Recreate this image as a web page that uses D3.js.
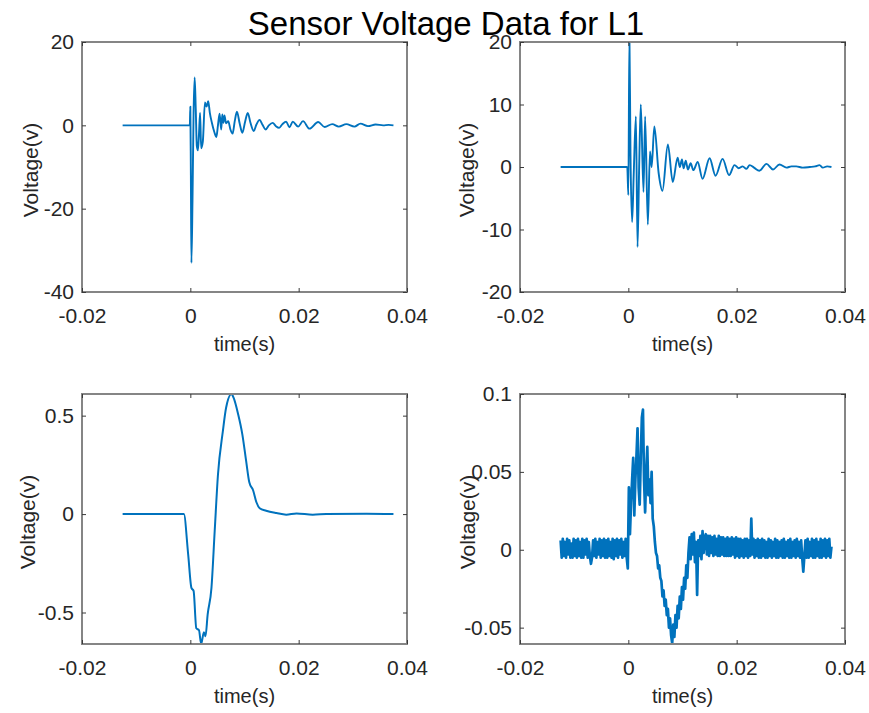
<!DOCTYPE html>
<html>
<head>
<meta charset="utf-8">
<script src="https://cdn.jsdelivr.net/npm/d3@7"></script>
<style>
  html, body { margin: 0; padding: 0; background: #ffffff; }
  svg { display: block; }
  text { font-family: "Liberation Sans", Arial, Helvetica, sans-serif; }
</style>
</head>
<body>
<svg id="chart" width="869" height="713"></svg>
<script>
// ---------------- DATA ----------------
const chartTitle = "Sensor Voltage Data for L1";
const xLabel = "time(s)";
const yLabel = "Voltage(v)";

const xDomain = [-0.02, 0.04];
const xTicks = [-0.02, 0, 0.02, 0.04];

// Panel 1 (top-left)
const yDomainP1 = [-40, 20];
const yTicksP1 = [-40, -20, 0, 20];
const timeP1 = [-0.0125, -0.0001, 0.0000, 0.0001, 0.0002, 0.0004, 0.0006, 0.0008, 0.0010, 0.0012,
  0.0014, 0.0016, 0.0018, 0.0020, 0.0023, 0.0027, 0.0030, 0.0033, 0.0036, 0.0040,
  0.0044, 0.0048, 0.0051, 0.0054, 0.0057, 0.0059, 0.0061, 0.0063, 0.0066, 0.0070,
  0.0074, 0.0078, 0.0082, 0.0086, 0.0091, 0.0096, 0.0101, 0.0106, 0.0111, 0.0117,
  0.0122, 0.0128, 0.0133, 0.0139, 0.0145, 0.0152, 0.0158, 0.0164, 0.0170, 0.0177,
  0.0183, 0.0189, 0.0199, 0.0208, 0.0220, 0.0236, 0.0248, 0.0262, 0.0274, 0.0288,
  0.0303, 0.0314, 0.0328, 0.0342, 0.0356, 0.0366, 0.0375];
const voltP1 = [0, 0, 4.5, -12, -33, -18, 3, 11.5, 4, -5,
  -6, -2, 3, -5.5, -4, 5.5, 4.5, 5.8, 3, 0.5,
  -1.5, -2.8, 0, 2.8, -1, 2.6, 0.6, 2.4, 0.5, 1.0,
  -1.0, -2.0, 1.0, 3.3, 0.5, -1.8, 0.8, 3.0, 0.6, -1.4,
  0.2, 1.3, 0.2, -1.0, 0, 0.6, -0.2, -0.6, 0.3, 0.9,
  -0.5, 0.9, -0.3, 1.0, -0.8, 0.8, -0.4, 0.3, -0.3, 0.3,
  -0.3, 0.4, -0.2, 0.2, 0, 0.1, 0];

// Panel 2 (top-right)
const yDomainP2 = [-20, 20];
const yTicksP2 = [-20, -10, 0, 10, 20];
const timeP2 = [-0.0125, -0.0002, 0.0000, 0.0002, 0.0004, 0.0007, 0.0010, 0.0014, 0.0017, 0.0020,
  0.0023, 0.0028, 0.0031, 0.0036, 0.0040, 0.0043, 0.0048, 0.0056, 0.0063, 0.0073,
  0.0082, 0.0091, 0.0095, 0.0099, 0.0102, 0.0106, 0.0110, 0.0115, 0.0120, 0.0128,
  0.0137, 0.0150, 0.0161, 0.0174, 0.0186, 0.0196, 0.0204, 0.0211, 0.0218, 0.0224,
  0.0232, 0.0242, 0.0255, 0.0267, 0.0279, 0.0292, 0.0301, 0.0310, 0.0322, 0.0335,
  0.0345, 0.0353, 0.0359, 0.0367, 0.0375];
const voltP2 = [0, 0, -4.5, 21, 2, -8.8, -1, 8.1, -12.8, 0,
  10, -4, 8.1, -9.2, 2.5, 0, 6.5, -1, -3.8, 3.6,
  -2.4, 1.5, 0, 1.2, -0.2, 1.0, -0.4, 0.6, -0.5, 0.8,
  -1.9, 1.4, -1.4, 1.3, -1.3, 0.3, -0.2, 0.1, -0.3, 0.3,
  -0.1, -0.6, 0.5, -0.4, 0.4, -0.1, 0.1, 0.1, -0.1, 0.0,
  0.1, 0.3, -0.1, 0.1, 0];

// Panel 3 (bottom-left)
const yDomainP3 = [-0.66, 0.61];
const yTicksP3 = [-0.5, 0, 0.5];
const timeP3 = [-0.0125, -0.0012, -0.0004, 0.0002, 0.0006, 0.0011, 0.0016, 0.0020, 0.0025, 0.0028,
  0.0032, 0.0039, 0.0045, 0.0051, 0.0060, 0.0066, 0.0076, 0.0080, 0.0088, 0.0096,
  0.0103, 0.0109, 0.0116, 0.0122, 0.0128, 0.0140, 0.0159, 0.0177, 0.0196, 0.0226,
  0.0251, 0.0325, 0.0375];
const voltP3 = [0, 0, -0.205, -0.375, -0.39, -0.58, -0.59, -0.66, -0.60, -0.62,
  -0.51, -0.375, -0.085, 0.20, 0.42, 0.54, 0.61, 0.59, 0.51, 0.405,
  0.27, 0.16, 0.12, 0.06, 0.03, 0.017, 0.005, -0.003, 0.003, -0.003,
  0, 0.002, 0];

// Panel 4 (bottom-right): uniformly sampled, start time and sample step
const yDomainP4 = [-0.0605, 0.1];
const yTicksP4 = [-0.05, 0, 0.05, 0.1];
const startP4 = -0.0125;
const stepP4 = 0.0002;
const voltP4 = [
  0.006,-0.005,0.007,-0.004,0.005,-0.005,0.007,-0.003,0.006,-0.005,
  0.004,-0.005,0.007,-0.004,0.006,-0.005,0.007,-0.004,0.005,-0.005,
  0.007,-0.005,0.006,-0.003,0.007,-0.005,0.005,-0.004,-0.009,-0.005,
  0.006,-0.004,0.007,-0.005,0.005,-0.003,0.007,-0.005,0.006,-0.004,
  0.007,-0.005,0.006,-0.005,0.007,-0.004,0.005,-0.005,0.007,-0.006,
  0.006,-0.004,0.007,-0.005,0.006,-0.003,0.007,-0.005,0.005,-0.004,
  0.007,-0.005,
  -0.012,0.040,0.010,0.030,0.045,0.059,0.022,0.045,0.060,0.078,
  0.040,0.029,0.060,0.085,0.090,0.045,0.024,0.050,0.066,0.035,
  0.045,0.030,0.050,0.020,0.015,0.005,-0.002,-0.004,-0.012,-0.010,
  -0.018,-0.020,-0.030,-0.026,-0.036,-0.032,-0.042,-0.038,-0.050,-0.044,
  -0.055,-0.060,-0.048,-0.056,-0.042,-0.050,-0.036,-0.044,-0.030,-0.038,
  -0.024,-0.032,-0.018,-0.025,-0.010,-0.018,-0.002,0.008,-0.006,0.010,
  -0.003,0.011,-0.008,0.005,-0.029,0.006,-0.004,0.009,-0.006,0.012,
  -0.002,0.008,
  0.010,-0.003,0.009,-0.004,0.009,-0.002,0.008,-0.004,0.009,-0.003,
  0.007,-0.004,0.009,-0.004,0.008,-0.003,0.008,-0.004,0.007,-0.004,
  0.008,-0.004,0.007,-0.004,0.008,-0.003,0.007,-0.005,0.008,-0.004,
  0.007,-0.005,0.007,-0.004,0.006,-0.005,0.007,-0.004,0.007,-0.005,
  0.006,-0.004,0.020,-0.003,0.007,-0.005,0.006,-0.004,0.007,-0.005,
  0.006,-0.005,0.007,-0.004,0.006,-0.005,0.005,-0.005,0.007,-0.004,
  0.006,-0.005,0.005,-0.004,0.007,-0.005,0.006,-0.005,0.005,-0.004,
  0.006,-0.005,0.007,-0.005,0.005,-0.004,0.006,-0.005,0.007,-0.005,
  0.005,-0.004,0.006,-0.005,0.007,-0.004,0.005,-0.005,0.006,-0.005,
  -0.014,-0.004,0.006,-0.005,0.007,-0.005,0.005,-0.004,0.007,-0.005,
  0.006,-0.005,0.007,-0.004,0.005,-0.005,0.007,-0.005,0.006,-0.004,
  0.007,-0.005,0.006,-0.004,0.007,-0.005,0.002
];

// ---------------- LAYOUT ----------------
const W = 869, H = 713;
const PW = 325, PH = 250;
const lineColor = "#0072BD";
const textColor = "#262626";
const boxColor = "#858585";
const tickColor = "#3a3a3a";

const panels = [
  { x: 82,  y: 42,  time: timeP1, volt: voltP1, yDomain: yDomainP1, yTicks: yTicksP1, curve: d3.curveMonotoneX, ylabX: 31, lw: 1.9 },
  { x: 520, y: 42,  time: timeP2, volt: voltP2, yDomain: yDomainP2, yTicks: yTicksP2, curve: d3.curveMonotoneX, ylabX: 467, lw: 1.9 },
  { x: 82,  y: 394, time: timeP3, volt: voltP3, yDomain: yDomainP3, yTicks: yTicksP3, curve: d3.curveMonotoneX, ylabX: 28, lw: 2.0 },
  { x: 520, y: 394, time: voltP4.map((_, i) => startP4 + i * stepP4), volt: voltP4, yDomain: yDomainP4, yTicks: yTicksP4, curve: d3.curveLinear, ylabX: 468, lw: 2.7 }
];

const fmt = d => String(+(+d).toFixed(4));

const svg = d3.select("#chart");
svg.append("rect").attr("width", W).attr("height", H).attr("fill", "#ffffff");

const defs = svg.append("defs");

panels.forEach((p, idx) => {
  const x = d3.scaleLinear().domain(xDomain).range([0, PW]);
  const y = d3.scaleLinear().domain(p.yDomain).range([PH, 0]);

  defs.append("clipPath").attr("id", "clip" + idx)
    .append("rect").attr("x", 0).attr("y", 0).attr("width", PW).attr("height", PH);

  const g = svg.append("g").attr("transform", `translate(${p.x},${p.y})`);

  const pts = p.time.map((t, i) => [t, p.volt[i]]);
  const line = d3.line().x(d => x(d[0])).y(d => y(d[1])).curve(p.curve);

  g.append("path")
    .attr("clip-path", `url(#clip${idx})`)
    .attr("d", line(pts))
    .attr("fill", "none")
    .attr("stroke", lineColor)
    .attr("stroke-width", p.lw)
    .attr("stroke-linejoin", "round");

  // box
  g.append("rect").attr("x", 0).attr("y", 0).attr("width", PW).attr("height", PH)
    .attr("fill", "none").attr("stroke", boxColor).attr("stroke-width", 2);

  const styleAxis = sel => {
    sel.select(".domain").remove();
    sel.selectAll(".tick line").attr("stroke", tickColor).attr("stroke-width", 1);
    sel.selectAll(".tick text").attr("fill", textColor).style("font-size", "21px")
      .style("font-family", '"Liberation Sans", Arial, sans-serif');
  };

  g.append("g").attr("transform", `translate(0,${PH})`)
    .call(d3.axisBottom(x).tickValues(xTicks).tickSizeInner(-4).tickSizeOuter(0).tickPadding(16).tickFormat(fmt))
    .call(styleAxis);
  g.append("g")
    .call(d3.axisTop(x).tickValues(xTicks).tickSizeInner(-4).tickSizeOuter(0).tickFormat(""))
    .call(styleAxis);
  g.append("g")
    .call(d3.axisLeft(y).tickValues(p.yTicks).tickSizeInner(-4).tickSizeOuter(0).tickPadding(8).tickFormat(fmt))
    .call(styleAxis);
  g.append("g").attr("transform", `translate(${PW},0)`)
    .call(d3.axisRight(y).tickValues(p.yTicks).tickSizeInner(-4).tickSizeOuter(0).tickFormat(""))
    .call(styleAxis);

  // x label
  svg.append("text")
    .attr("x", p.x + PW / 2).attr("y", p.y + PH + 59)
    .attr("text-anchor", "middle")
    .attr("fill", textColor)
    .style("font-size", "20px")
    .text(xLabel);

  // y label
  svg.append("text")
    .attr("transform", `translate(${p.ylabX},${p.y + PH / 2 + 3}) rotate(-90)`)
    .attr("text-anchor", "middle")
    .attr("dy", "0.35em")
    .attr("fill", textColor)
    .style("font-size", "21px")
    .text(yLabel);
});

// title
svg.append("text")
  .attr("x", 446).attr("y", 35)
  .attr("text-anchor", "middle")
  .attr("fill", "#000000")
  .style("font-size", "33px")
  .text(chartTitle);
</script>
</body>
</html>
